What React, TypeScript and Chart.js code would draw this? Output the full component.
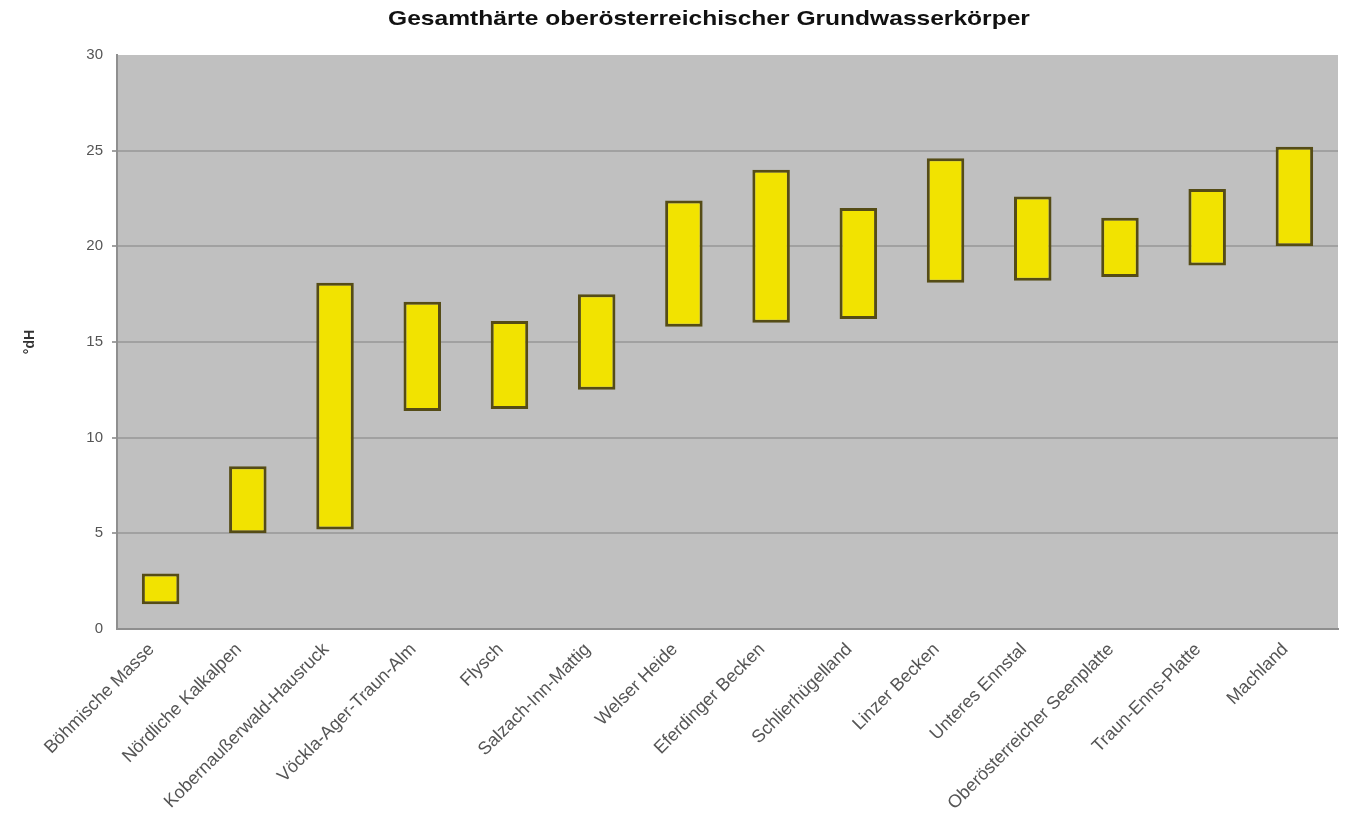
import React, { useEffect, useRef } from "react";
import { Chart, registerables } from "chart.js";

Chart.register(...registerables);

// Groundwater bodies of Upper Austria
const categories = [
  "Böhmische Masse",
  "Nördliche Kalkalpen",
  "Kobernaußerwald-Hausruck",
  "Vöckla-Ager-Traun-Alm",
  "Flysch",
  "Salzach-Inn-Mattig",
  "Welser Heide",
  "Eferdinger Becken",
  "Schlierhügelland",
  "Linzer Becken",
  "Unteres Ennstal",
  "Oberösterreicher Seenplatte",
  "Traun-Enns-Platte",
  "Machland",
];

// Range of total hardness (°dH): lower and upper bound per body
const lowValues = [1.3, 5.0, 5.2, 11.4, 11.5, 12.5, 15.8, 16.0, 16.2, 18.1, 18.2, 18.4, 19.0, 20.0];
const highValues = [2.9, 8.5, 18.1, 17.1, 16.1, 17.5, 22.4, 24.0, 22.0, 24.6, 22.6, 21.5, 23.0, 25.2];

const yMin = 0;
const yMax = 30;
const yStep = 5;

const chartTitle = "Gesamthärte oberösterreichischer Grundwasserkörper";
const yAxisTitle = "°dH";

const FONT = "'Liberation Sans', Arial, sans-serif";

const plotBackground = {
  id: "plotBackground",
  beforeDraw(chart: any) {
    const { ctx, chartArea } = chart;
    ctx.save();
    ctx.fillStyle = "#c0c0c0";
    ctx.fillRect(chartArea.left, chartArea.top, chartArea.right - chartArea.left, chartArea.bottom - chartArea.top);
    ctx.restore();
  },
};

// Headline drawn slightly widened, centred above the plot
const headline = {
  id: "headline",
  afterDraw(chart: any) {
    const { ctx } = chart;
    const stretch = 1.17;
    ctx.save();
    ctx.font = `bold 21px ${FONT}`;
    ctx.fillStyle = "#111111";
    ctx.textAlign = "center";
    ctx.textBaseline = "middle";
    ctx.translate(709, 19);
    ctx.scale(stretch, 1);
    ctx.fillText(chartTitle, 0, 0);
    ctx.restore();
  },
};

export default function App() {
  const canvasRef = useRef<HTMLCanvasElement | null>(null);

  useEffect(() => {
    if (!canvasRef.current) return;
    const ranges = lowValues.map((lo, i) => [lo, highValues[i]]);

    const chart = new Chart(canvasRef.current, {
      type: "bar",
      data: {
        labels: categories,
        datasets: [
          {
            data: ranges as any,
            backgroundColor: "#f2e300",
            borderColor: "#554c16",
            borderWidth: 3,
            borderSkipped: false,
            barPercentage: 0.43,
            categoryPercentage: 1,
          },
        ],
      },
      options: {
        animation: false,
        responsive: false,
        maintainAspectRatio: false,
        layout: { padding: { top: 55, right: 8, left: 22, bottom: 0 } },
        plugins: {
          legend: { display: false },
          title: { display: false },
          tooltip: { enabled: false },
        },
        scales: {
          x: {
            grid: { display: false },
            border: { display: true, color: "#8f8f8f", width: 2 },
            ticks: {
              autoSkip: false,
              minRotation: 45,
              maxRotation: 45,
              padding: 2,
              labelOffset: -9,
              color: "#555555",
              font: { family: FONT, size: 18 },
            },
            afterFit(scale: any) {
              scale.height = 190;
            },
          },
          y: {
            min: yMin,
            max: yMax,
            ticks: {
              stepSize: yStep,
              padding: 9,
              color: "#555555",
              font: { family: FONT, size: 15 },
            },
            grid: {
              tickLength: 5,
              lineWidth: 2,
              color: (c: any) =>
                c.tick && (c.tick.value === yMax || c.tick.value === yMin) ? "rgba(0,0,0,0)" : "#a1a1a1",
            },
            border: { display: true, color: "#8f8f8f", width: 2 },
            title: {
              display: true,
              text: yAxisTitle,
              color: "#333333",
              padding: 0,
              font: { family: FONT, size: 14, weight: "bold" },
            },
            afterFit(scale: any) {
              scale.width = 95;
            },
          },
        },
      },
      plugins: [plotBackground, headline],
    });

    return () => chart.destroy();
  }, []);

  return (
    <div style={{ position: "fixed", left: 0, top: 0, width: 1346, height: 819, background: "#ffffff" }}>
      <canvas ref={canvasRef} width={1346} height={819} style={{ width: 1346, height: 819 }} />
    </div>
  );
}
